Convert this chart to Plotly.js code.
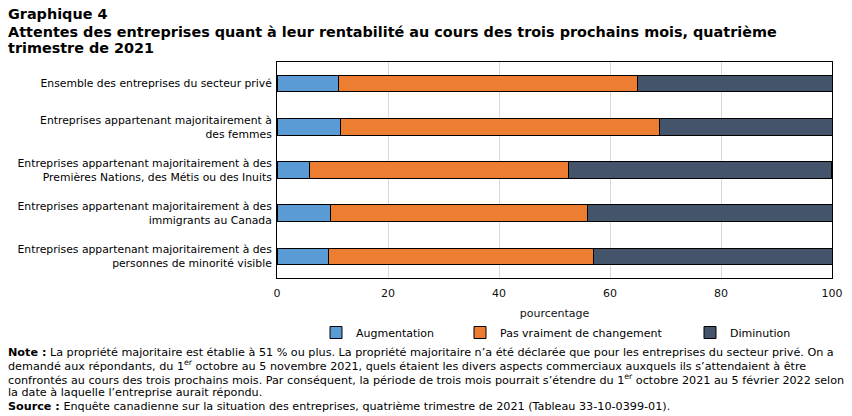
<!DOCTYPE html>
<html><head><meta charset="utf-8">
<script src="https://cdn.plot.ly/plotly-3.0.1.min.js"></script>
<style>body{margin:0;background:#fff}#c{width:852px;height:416px}</style>
</head><body><div id="c"></div>
<script>
const categories = [
  "Ensemble des entreprises du secteur privé",
  "Entreprises appartenant majoritairement à<br>des femmes",
  "Entreprises appartenant majoritairement à des<br>Premières Nations, des Métis ou des Inuits",
  "Entreprises appartenant majoritairement à des<br>immigrants au Canada",
  "Entreprises appartenant majoritairement à des<br>personnes de minorité visible"
];
const augmentation = [11.0, 11.4, 5.8, 9.6, 9.2];
const pasChangement = [53.9, 57.5, 46.7, 46.3, 47.8];
const diminution = [35.1, 31.1, 47.4, 44.1, 43.0];
const seriesNames = ["Augmentation", "Pas vraiment de changement", "Diminution"];
const colors = ["#5b9bd5", "#ed7d31", "#44546a"];
const xTicks = [0, 20, 40, 60, 80, 100];
const titleLines = [
  "Graphique 4",
  "Attentes des entreprises quant à leur rentabilité au cours des trois prochains mois, quatrième",
  "trimestre de 2021"
];
const noteLines = [
  "<b>Note :</b> La propriété majoritaire est établie à 51 % ou plus. La propriété majoritaire n’a été déclarée que pour les entreprises du secteur privé. On a",
  "demandé aux répondants, du 1<sup>er</sup> octobre au 5 novembre 2021, quels étaient les divers aspects commerciaux auxquels ils s’attendaient à être",
  "confrontés au cours des trois prochains mois. Par conséquent, la période de trois mois pourrait s’étendre du 1<sup>er</sup> octobre 2021 au 5 février 2022 selon",
  "la date à laquelle l’entreprise aurait répondu.",
  "<b>Source :</b> Enquête canadienne sur la situation des entreprises, quatrième trimestre de 2021 (Tableau 33-10-0399-01)."
];

const font = "DejaVu Sans, Verdana, sans-serif";
const vals = [augmentation, pasChangement, diminution];
const legendIds = ["legend", "legend2", "legend3"];
const traces = vals.map((v, i) => ({
  type: "bar", orientation: "h", y: categories, x: v, name: seriesNames[i],
  marker: {color: colors[i], line: {color: "#000", width: 1}},
  legend: legendIds[i], hoverinfo: "x+name"
}));

const L = 277, T = 62, W = 555, H = 216;
const px2x = p => (p - L) / W;
const py2y = p => (T + H - p) / H;
function lg(px) {
  return {orientation: "h", x: px2x(px), xanchor: "left", y: py2y(318), yanchor: "top",
    font: {family: font, size: 11, color: "#000"}, bgcolor: "rgba(0,0,0,0)", itemwidth: 30, tracegroupgap: 0};
}
const annotations = [];
const titleY = [14, 32, 48];
titleLines.forEach((t, i) => annotations.push({
  xref: "paper", yref: "paper", x: px2x(6), y: py2y(titleY[i]), xanchor: "left", yanchor: "middle",
  align: "left", showarrow: false, font: {family: font, size: 14.4, color: "#000"}, text: "<b>" + t + "</b>"
}));
const noteY = [352, 365.5, 379, 392.5, 406];
noteLines.forEach((t, i) => annotations.push({
  xref: "paper", yref: "paper", x: px2x(6), y: py2y(noteY[i]), xanchor: "left", yanchor: "middle",
  align: "left", showarrow: false, font: {family: font, size: 11.2, color: "#000"}, text: t
}));

const layout = {
  width: 852, height: 416,
  margin: {l: L, r: 852 - L - W, t: T, b: 416 - T - H},
  barmode: "stack", bargap: 0.62,
  paper_bgcolor: "#fff", plot_bgcolor: "#fff",
  xaxis: {
    range: [0, 100], tickvals: xTicks, ticktext: xTicks.map(String),
    showgrid: true, gridcolor: "#d9d9d9", gridwidth: 1, zeroline: false,
    showline: true, linecolor: "#000", linewidth: 1, mirror: true,
    ticks: "", ticklabelstandoff: 5, tickfont: {family: font, size: 11, color: "#111"},
    title: {text: "pourcentage", font: {family: font, size: 11, color: "#111"}, standoff: 10},
    fixedrange: true
  },
  yaxis: {
    autorange: "reversed", type: "category",
    showline: true, linecolor: "#000", linewidth: 1, mirror: true,
    ticks: "", ticklen: 0, ticklabelstandoff: 2, tickfont: {family: font, size: 10.8, color: "#000"},
    showgrid: false, fixedrange: true
  },
  showlegend: true,
  legend: lg(316), legend2: lg(460), legend3: lg(690),
  annotations: annotations
};
Plotly.newPlot("c", traces, layout, {displayModeBar: false, staticPlot: true});
</script></body></html>
